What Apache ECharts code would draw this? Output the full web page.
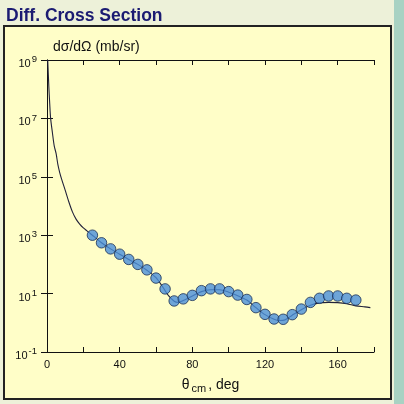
<!DOCTYPE html>
<html>
<head>
<meta charset="utf-8">
<script src="https://cdn.jsdelivr.net/npm/echarts@6/dist/echarts.min.js"></script>
<style>
  html, body { margin: 0; padding: 0; background: #edf1d9; }
  #chart { width: 404px; height: 404px; }
</style>
</head>
<body>
<div id="chart"></div>
<script>
// Measured differential cross section (angle in deg, value in mb/sr)
const dataAngles = [25, 30, 35, 40, 45, 50, 55, 60, 65, 70, 75, 80, 85, 90, 95,
                    100, 105, 110, 115, 120, 125, 130, 135, 140, 145, 150, 155, 160, 165, 170];
const dataValues = [1000, 550, 340, 224, 148, 100, 65, 34, 14.5, 5.6, 6.6, 8.7, 12.6, 14.5, 14.5,
                    11.7, 8.9, 6.3, 3.3, 1.95, 1.35, 1.32, 1.9, 2.95, 5.0, 6.9, 8.3, 8.3, 6.9, 6.0];

// Calculated curve
const curveAngles = [0.4, 1, 1.5, 2, 3, 4, 5, 6, 7, 8, 10, 12, 14, 16, 18, 20, 22, 24, 26, 30, 35,
                     40, 45, 50, 55, 60, 64, 67, 70, 72, 75, 80, 85, 90, 95, 100, 105, 110, 115,
                     120, 125, 128, 131, 135, 140, 145, 150, 155, 160, 165, 170, 175, 178];
const curveValues = [1e9, 1.26e8, 3.16e7, 1e7, 3.16e6, 1.12e6, 6.3e5, 2.6e5, 1.4e5, 8.5e4, 3.5e4, 1.4e4,
                     6300, 3550, 2400, 1780, 1410, 1120, 890, 550, 340, 224, 148, 100, 63, 35,
                     15.8, 8.3, 5.5, 5.0, 5.75, 8.3, 11.7, 13.5, 13.5, 11.2, 8.5, 6.0, 3.3, 1.9,
                     1.32, 1.2, 1.26, 1.82, 2.8, 4.0, 4.8, 5.0, 4.9, 4.5, 3.8, 3.5, 3.3];

// Axis ticks
const xLabelTicks = [0, 40, 80, 120, 160];
const yTickExponents = [-1, 1, 3, 5, 7, 9];

const FONT = '"Liberation Sans", Arial, sans-serif';
const INK = '#111';

const chart = echarts.init(document.getElementById('chart'), null, { renderer: 'canvas' });

const xCommon = {
  type: 'value', min: 0, max: 180, interval: 20,
  axisLine: { show: true, lineStyle: { color: INK, width: 1 } },
  axisTick: { show: true, inside: true, length: 5, lineStyle: { color: INK } },
  splitLine: { show: false }
};
const yCommon = {
  type: 'log', logBase: 10, min: 0.1, max: 1e9, interval: 2,
  axisLine: { show: true, lineStyle: { color: INK, width: 1 } },
  axisTick: { show: true, inside: true, length: 6, lineStyle: { color: INK } },
  splitLine: { show: false },
  minorTick: { show: false }
};

chart.setOption({
  animation: false,
  backgroundColor: '#edf1d9',
  graphic: [
    { type: 'rect', left: 394, top: 0, shape: { width: 10, height: 404 },
      style: { fill: '#a8d2c3' }, z: -10 },
    { type: 'rect', shape: { x: 4, y: 26, width: 387, height: 373 },
      style: { fill: '#fffec8', stroke: '#222', lineWidth: 2 }, z: -10 },
    { type: 'text', x: 6, y: 16,
      style: { text: 'Diff. Cross Section', font: 'bold 17.5px ' + FONT, fill: '#1b1b72',
               verticalAlign: 'middle' } },
    { type: 'text', x: 53, y: 47,
      style: { text: 'dσ/dΩ (mb/sr)', font: '14px ' + FONT, fill: INK, verticalAlign: 'middle' } }
  ],
  grid: { left: 47, top: 60, right: 30, bottom: 52, containLabel: false },
  xAxis: [
    Object.assign({}, xCommon, {
      position: 'bottom',
      axisLabel: {
        show: true, margin: 7, color: INK, fontFamily: FONT, fontSize: 11,
        formatter: v => xLabelTicks.indexOf(v) >= 0 ? String(v) : ''
      },
      name: '{t|θ}{s|cm}{t|, deg}',
      nameLocation: 'middle', nameGap: 25,
      nameTextStyle: {
        rich: {
          t: { fontFamily: FONT, fontSize: 14, color: INK },
          s: { fontFamily: FONT, fontSize: 11, color: INK, padding: [6, 2, 0, 2] }
        }
      }
    }),
    Object.assign({}, xCommon, { position: 'top', axisLabel: { show: false } })
  ],
  yAxis: [
    Object.assign({}, yCommon, {
      position: 'left',
      axisLabel: {
        show: true, margin: 10,
        formatter: v => {
          const e = Math.round(Math.log10(v));
          return yTickExponents.indexOf(e) >= 0 ? '{b|10}{p|' + e + '}' : '';
        },
        rich: {
          b: { fontFamily: FONT, fontSize: 11, color: INK, padding: [8, 0, 0, 0], lineHeight: 13 },
          p: { fontFamily: FONT, fontSize: 9.5, color: INK, verticalAlign: 'top', padding: [1, 0, 0, 1] }
        }
      }
    }),
    Object.assign({}, yCommon, { position: 'right', axisLabel: { show: false } })
  ],
  series: [
    {
      type: 'line', name: 'calc',
      data: curveAngles.map((a, i) => [a, curveValues[i]]),
      smooth: 0.3, showSymbol: false, clip: true,
      lineStyle: { color: '#22223a', width: 1.1 },
      z: 2
    },
    {
      type: 'scatter', name: 'data',
      data: dataAngles.map((a, i) => [a, dataValues[i]]),
      symbol: 'circle', symbolSize: 10.5,
      itemStyle: { color: '#4a8edb', borderColor: '#1a2f55', borderWidth: 1 },
      z: 3
    }
  ]
});
</script>
</body>
</html>
